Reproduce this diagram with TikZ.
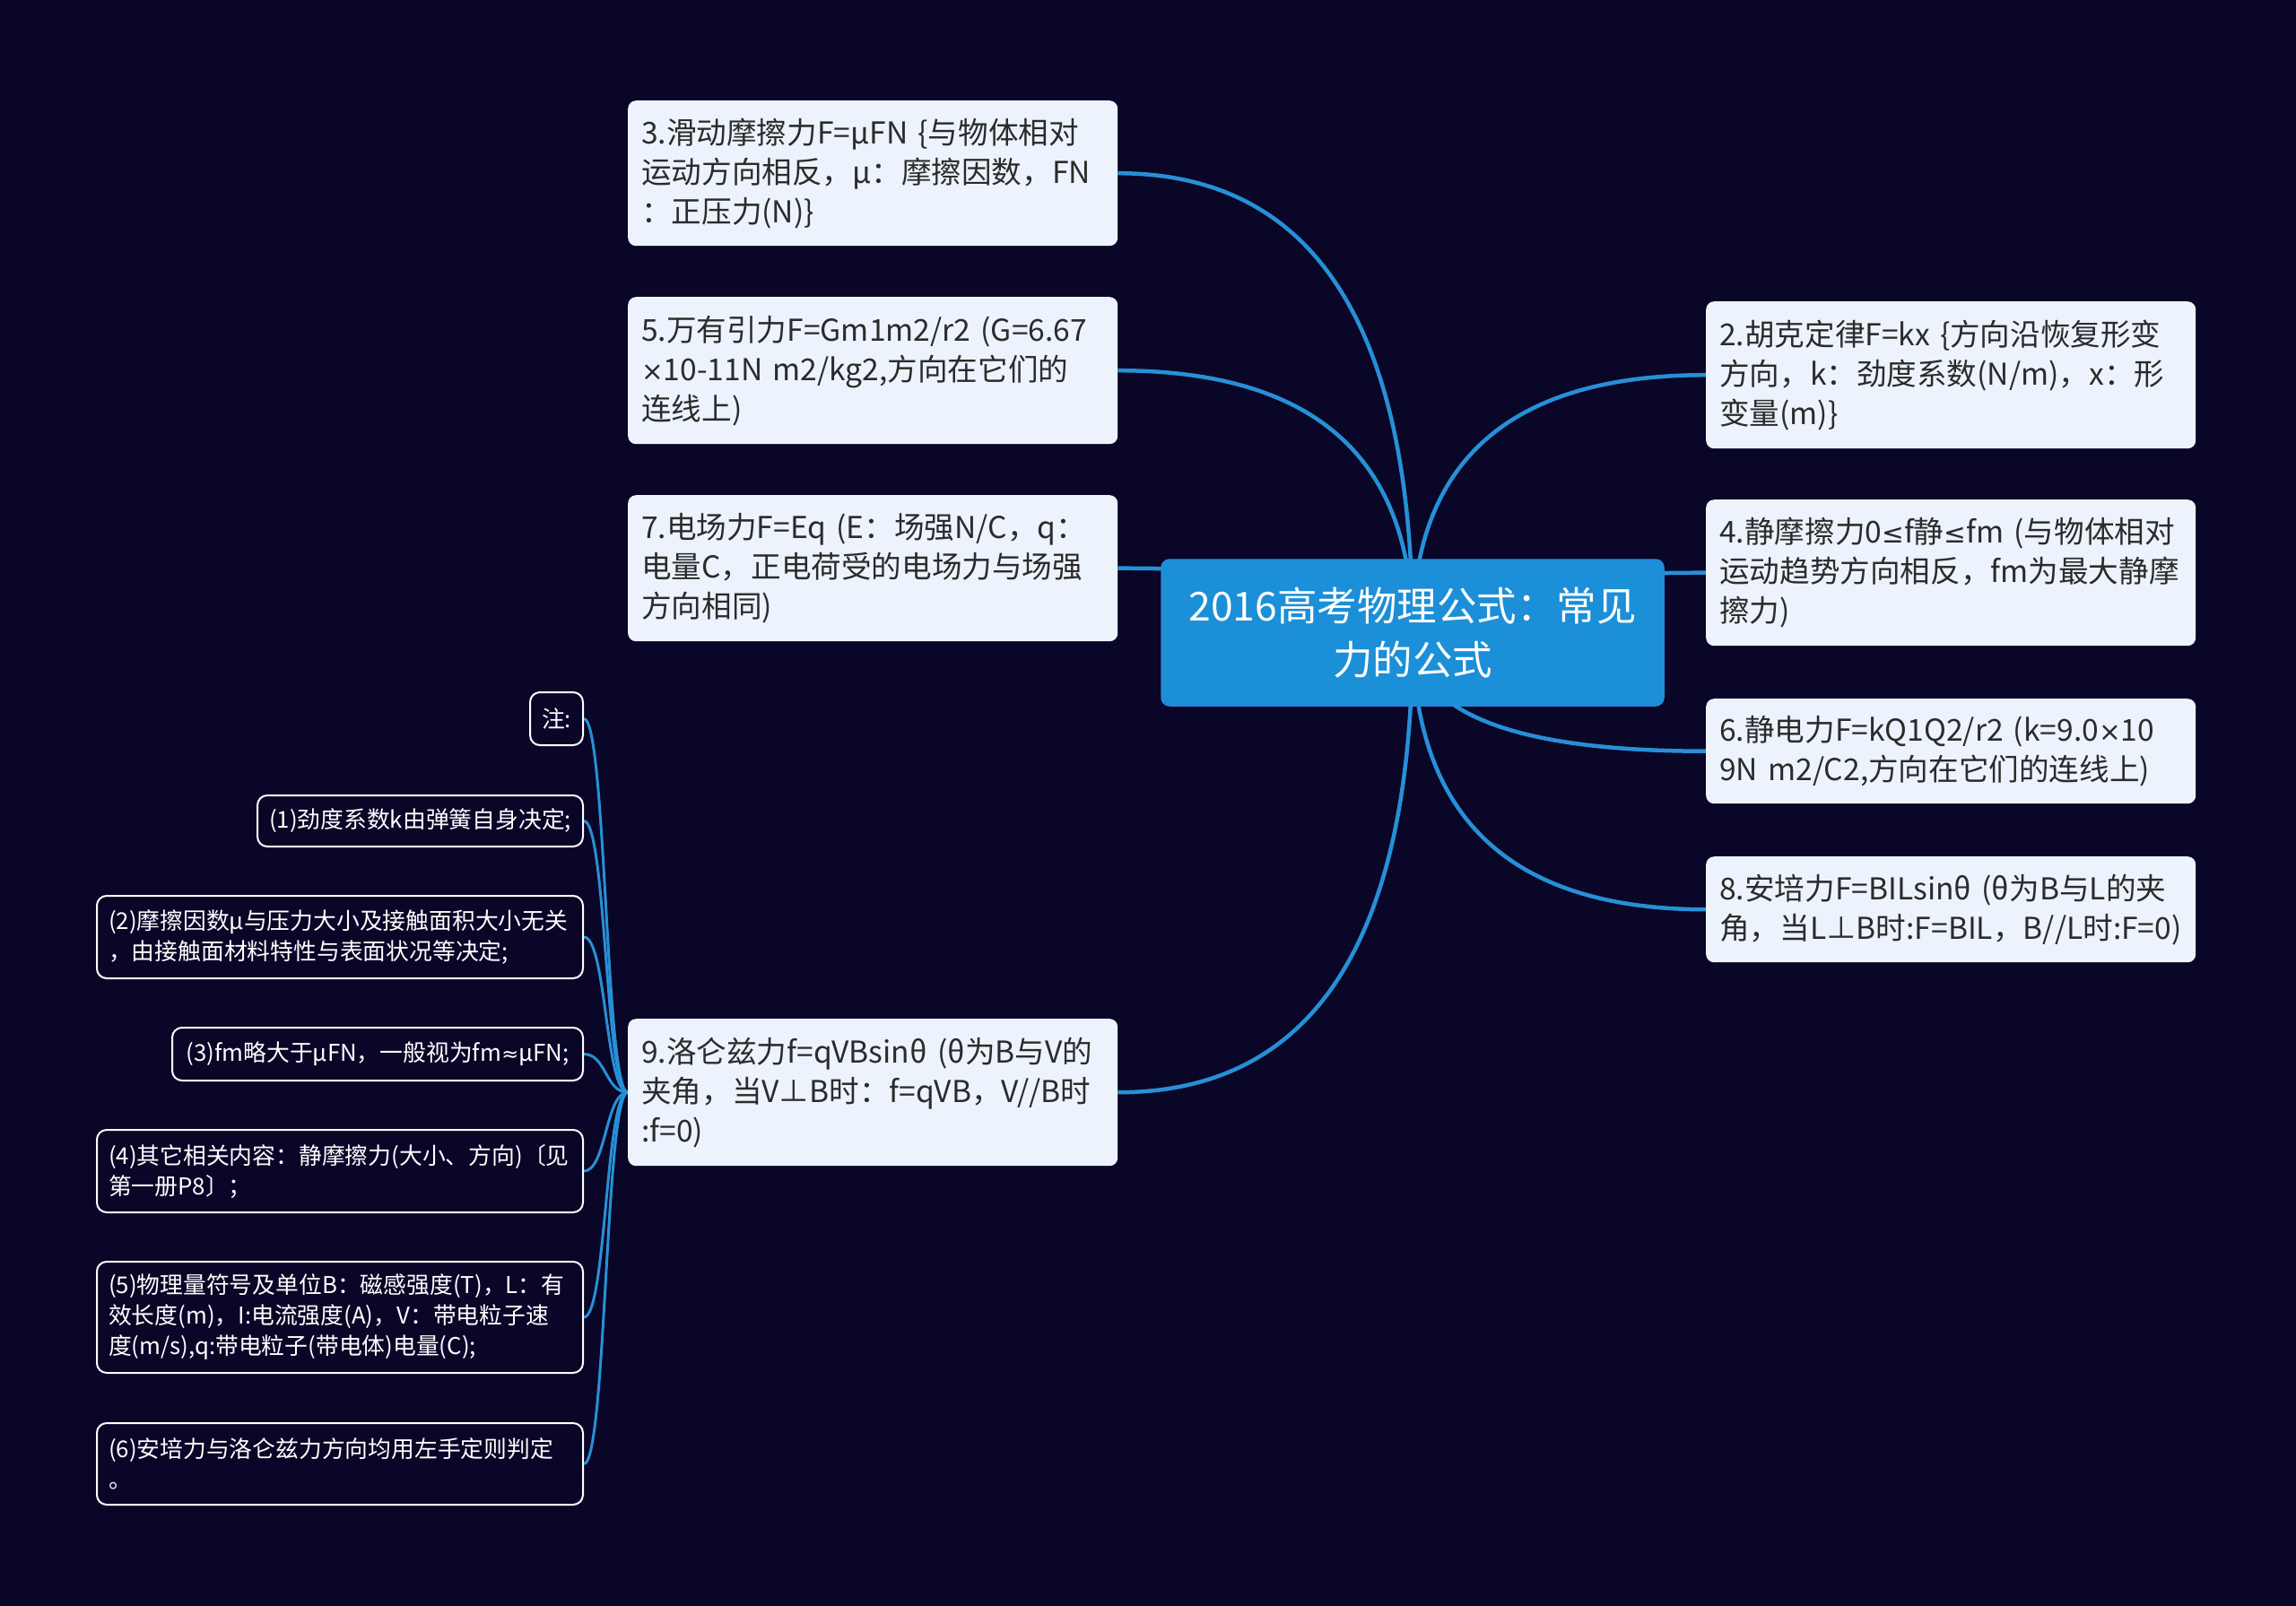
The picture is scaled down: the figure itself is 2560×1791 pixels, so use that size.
\documentclass[tikz,border=0pt]{standalone}
\usepackage{fontspec}
\setmainfont{Noto Sans CJK SC}
\newfontfamily\symf{DejaVu Sans}[Scale=0.88]
\newcommand{\tms}{{\symf ×}}
\newcommand{\leqs}{{\symf ≤}}
\newcommand{\apx}{{\symf ≈}}
\usetikzlibrary{calc,backgrounds}
\hyphenpenalty=10000
\exhyphenpenalty=10000
\definecolor{bg}{HTML}{0A0628}
\definecolor{hubfill}{HTML}{1B8FD7}
\definecolor{hubline}{HTML}{2F86DC}
\definecolor{linkc}{HTML}{2690D6}
\definecolor{cardfill}{HTML}{EDF3FC}
\definecolor{ink}{HTML}{2B2B2B}
\begin{document}
\begin{tikzpicture}[x=1pt,y=-1pt,
  hubbox/.style={fill=hubfill, draw=hubline, line width=1.5pt, rounded corners=9pt,
    minimum width=560pt, minimum height=163pt, text width=530pt, align=center,
    text=white, font=\fontsize{44.5}{60}\selectfont, inner sep=0pt},
  card/.style={fill=cardfill, rounded corners=9pt, text width=516pt, align=left,
    inner xsep=15pt, inner ysep=0pt, text=ink, font=\fontsize{33.6}{44}\selectfont},
  notebox/.style={fill=bg, draw=white, line width=2pt, rounded corners=11pt,
    text=white, font=\fontsize{25.8}{34}\selectfont, inner xsep=13pt, inner ysep=0pt},
  widenote/.style={text width=516pt, align=left},
  mainlink/.style={draw=linkc, line width=4.5pt},
  notelink/.style={draw=linkc, line width=3pt}]

\useasboundingbox (0,0) rectangle (2560,1791);

% central topic
\node[hubbox] (hub) at (1575,705.5) {2016高考物理公式：常见\\力的公式};

% left main branches
\node[card, minimum height=162pt, anchor=north west] (n3) at (700,112)
  {3.滑动摩擦力F=μFN~\{与物体相对\\运动方向相反，μ：摩擦因数，FN\\：正压力(N)\}};
\node[card, minimum height=164pt, anchor=north west] (n5) at (700,331)
  {5.万有引力F=Gm1m2/r2~(G=6.67\\\tms10-11N~m2/kg2,方向在它们的\\连线上)};
\node[card, minimum height=163pt, anchor=north west] (n7) at (700,552)
  {7.电场力F=Eq~(E：场强N/C，q：\\电量C，正电荷受的电场力与场强\\方向相同)};
\node[card, minimum height=164pt, anchor=north west] (n9) at (700,1136)
  {9.洛仑兹力f=qVBsinθ~(θ为B与V的\\夹角，当V⊥B时：f=qVB，V//B时\\:f=0)};

% right main branches
\node[card, minimum height=164pt, anchor=north west] (n2) at (1902,336)
  {2.胡克定律F=kx~\{方向沿恢复形变\\方向，k：劲度系数(N/m)，x：形\\变量(m)\}};
\node[card, minimum height=163pt, anchor=north west] (n4) at (1902,557)
  {4.静摩擦力0\leqs f静\leqs fm~(与物体相对\\运动趋势方向相反，fm为最大静摩\\擦力)};
\node[card, minimum height=117pt, anchor=north west] (n6) at (1902,779)
  {6.静电力F=kQ1Q2/r2~(k=9.0\tms10\\9N~m2/C2,方向在它们的连线上)};
\node[card, minimum height=118pt, anchor=north west] (n8) at (1902,955)
  {8.安培力F=BILsinθ~(θ为B与L的夹\\角，当L⊥B时:F=BIL，B//L时:F=0)};

% notes of branch 9
\node[notebox, minimum width=58pt, minimum height=59pt, anchor=east] (k0) at (651,801.5) {注:};
\node[notebox, minimum width=362pt, minimum height=57pt, anchor=east] (k1) at (651,915.5) {(1)劲度系数k由弹簧自身决定;};
\node[notebox, widenote, minimum height=92pt, anchor=east] (k2) at (651,1045)
  {(2)摩擦因数μ与压力大小及接触面积大小无关\\，由接触面材料特性与表面状况等决定;};
\node[notebox, minimum width=458pt, minimum height=59pt, anchor=east] (k3) at (651,1175.5) {(3)fm略大于μFN，一般视为fm\apx μFN;};
\node[notebox, widenote, minimum height=92pt, anchor=east] (k4) at (651,1306)
  {(4)其它相关内容：静摩擦力(大小、方向)〔见\\第一册P8〕；};
\node[notebox, widenote, minimum height=124pt, anchor=east] (k5) at (651,1469)
  {(5)物理量符号及单位B：磁感强度(T)，L：有\\效长度(m)，I:电流强度(A)，V：带电粒子速\\度(m/s),q:带电粒子(带电体)电量(C);};
\node[notebox, widenote, minimum height=91pt, anchor=east] (k6) at (651,1632.5)
  {(6)安培力与洛仑兹力方向均用左手定则判定\\。};

\begin{pgfonlayer}{background}
  \fill[bg] (0,0) rectangle (2560,1791);
  \foreach \n/\a in {n3/east,n5/east,n7/east,n9/east,n2/west,n4/west,n6/west,n8/west}{
    \coordinate (K) at (hub.center|-\n.\a);
    \draw[mainlink] (hub.center) .. controls ($(hub.center)!0.667!(K)$) and ($(\n.\a)!0.667!(K)$) .. (\n.\a);
  }
  \foreach \k in {k0,k1,k2,k3,k4,k5,k6}{
    \draw[notelink] (n9.west) .. controls +(-25,0) and +(25,0) .. (\k.east);
  }
\end{pgfonlayer}
\end{tikzpicture}
\end{document}
